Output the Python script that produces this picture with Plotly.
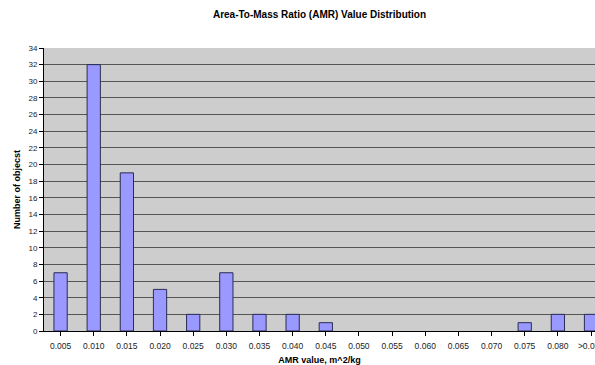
import plotly.graph_objects as go

# AMR histogram bins and counts
bins = ["0.005", "0.010", "0.015", "0.020", "0.025", "0.030", "0.035", "0.040",
        "0.045", "0.050", "0.055", "0.060", "0.065", "0.070", "0.075", "0.080", ">0.085"]
counts = [7, 32, 19, 5, 2, 7, 2, 2, 1, 0, 0, 0, 0, 0, 1, 2, 2]
y_ticks = list(range(0, 35, 2))

font_family = "Liberation Sans, Arial, sans-serif"

# empty bins get no outline so nothing is drawn for them
outline_widths = [1 if c > 0 else 0 for c in counts]

fig = go.Figure(
    go.Bar(
        x=list(range(len(bins))),
        y=counts,
        width=0.4,
        marker=dict(color="#9999ff", line=dict(color="#2b2b55", width=outline_widths)),
    )
)

fig.update_layout(
    width=595,
    height=365,
    margin=dict(l=44, r=0, t=48, b=34),
    paper_bgcolor="white",
    plot_bgcolor="#cdcdcd",
    showlegend=False,
    title=dict(
        text="<b>Area-To-Mass Ratio (AMR) Value Distribution</b>",
        x=0.5, xanchor="center", xref="paper",
        y=1 - 14 / 365, yanchor="middle",
        font=dict(family=font_family, size=10, color="#000"),
    ),
    font=dict(family=font_family, size=8, color="#000"),
)

fig.update_xaxes(
    range=[-0.5, 16.12],
    automargin=False,
    tickmode="array",
    tickvals=list(range(len(bins))),
    ticktext=bins,
    ticks="outside",
    tickson="boundaries",
    ticklen=4,
    tickcolor="#000",
    ticklabeloverflow="allow",
    ticklabelstandoff=3,
    showline=True,
    linecolor="#000",
    linewidth=1,
    showgrid=False,
    tickfont=dict(size=8.5, color="#222"),
    title=dict(text="<b>AMR value, m^2/kg</b>", font=dict(size=9), standoff=6),
)

fig.update_yaxes(
    range=[0, 34],
    automargin=False,
    tickmode="array",
    tickvals=y_ticks,
    ticks="outside",
    ticklen=4,
    tickcolor="#000",
    showline=True,
    linecolor="#000",
    linewidth=1,
    showgrid=True,
    gridcolor="#555555",
    gridwidth=1,
    zeroline=False,
    tickfont=dict(size=8, color="#222"),
    title=dict(text="<b>Number of objecst</b>", font=dict(size=9), standoff=6),
)

fig.write_html("out.html")
